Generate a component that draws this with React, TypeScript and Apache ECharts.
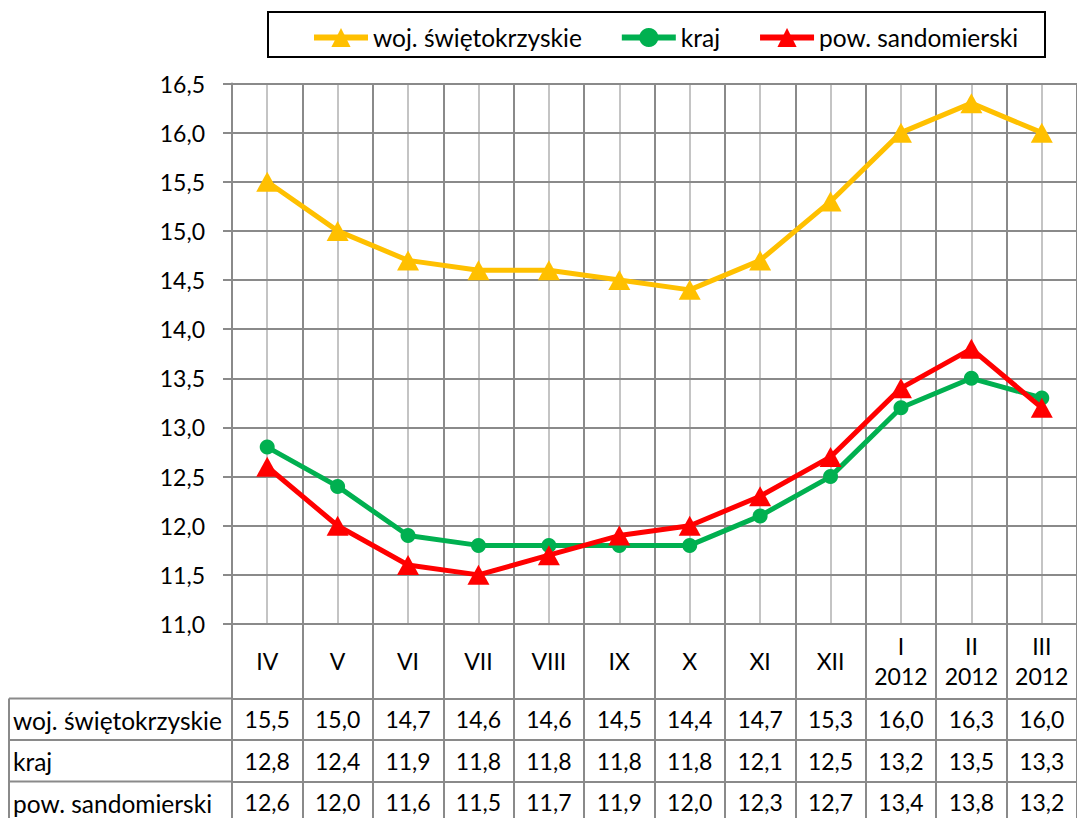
import React, { useEffect, useRef } from "react";
import * as echarts from "echarts";

const categories = ["IV", "V", "VI", "VII", "VIII", "IX", "X", "XI", "XII", "I\n2012", "II\n2012", "III\n2012"];
const seriesNames = ["woj. świętokrzyskie", "kraj", "pow. sandomierski"];
const wojValues = [15.5, 15.0, 14.7, 14.6, 14.6, 14.5, 14.4, 14.7, 15.3, 16.0, 16.3, 16.0];
const krajValues = [12.8, 12.4, 11.9, 11.8, 11.8, 11.8, 11.8, 12.1, 12.5, 13.2, 13.5, 13.3];
const powValues = [12.6, 12.0, 11.6, 11.5, 11.7, 11.9, 12.0, 12.3, 12.7, 13.4, 13.8, 13.2];
const colors = ["#FFC000", "#00B050", "#FF0000"];
const symbols = ["triangle", "circle", "triangle"];
const yMin = 11;
const yMax = 16.5;
const yStep = 0.5;

const fmt = (v: number) => v.toFixed(1).replace(".", ",");

const FONT = "Lato";
const NUM_SIZE = 23;
const NAME_SIZE = 24.5;
const GRID_LEFT = 232;
const GRID_TOP = 83.5;
const GRID_BOTTOM_Y = 624;
const GRID_W = 847;
const HEADER_H = 74.5;
const ROW_H = 41.5;
const DARK = "#8a8a8a";
const LIGHT = "#c4c4c4";

export default function App() {
  const ref = useRef<HTMLDivElement>(null);
  useEffect(() => {
    if (!ref.current) return;
    const chart = echarts.init(ref.current, null, { renderer: "svg" });
    const allValues = [wojValues, krajValues, powValues];

    const tableAxes = allValues.map((vals, i) => ({
      type: "category",
      position: "bottom",
      gridIndex: 0,
      offset: HEADER_H + i * ROW_H,
      data: vals.map(fmt),
      boundaryGap: true,
      axisLine: { show: true, lineStyle: { color: DARK, width: 2 } },
      axisTick: { show: true, length: ROW_H + (i === 2 ? 10 : 0), interval: 0, lineStyle: { color: DARK, width: 2 } },
      axisLabel: {
        interval: 0,
        margin: ROW_H / 2,
        verticalAlign: "middle",
        fontFamily: FONT,
        fontSize: NUM_SIZE,
        color: "#000",
      },
      splitLine: { show: false },
      z: 3,
    }));

    const graphicEls: any[] = [];
    const rowTops = [0, 1, 2].map((i) => GRID_BOTTOM_Y + HEADER_H + i * ROW_H);
    rowTops.forEach((t, i) => {
      graphicEls.push({
        type: "line",
        shape: { x1: 9, y1: t, x2: GRID_LEFT, y2: t },
        style: { stroke: DARK, lineWidth: 2 },
      });
      graphicEls.push({
        type: "text",
        x: 13,
        y: t + ROW_H / 2 + 1,
        style: {
          text: seriesNames[i],
          font: `${NAME_SIZE}px ${FONT}`,
          fill: "#000",
          verticalAlign: "middle",
          align: "left",
        },
      });
    });
    graphicEls.push({
      type: "line",
      shape: { x1: 9, y1: rowTops[0], x2: 9, y2: 818 },
      style: { stroke: DARK, lineWidth: 2 },
    });
    graphicEls.push({
      type: "rect",
      shape: { x: 268, y: 12, width: 777, height: 45 },
      style: { fill: "#fff", stroke: "#000", lineWidth: 2 },
      z: -1,
    });

    chart.setOption({
      animation: false,
      backgroundColor: "#fff",
      textStyle: { fontFamily: FONT },
      grid: { left: GRID_LEFT, top: GRID_TOP, width: GRID_W, height: GRID_BOTTOM_Y - GRID_TOP },
      legend: {
        left: 306,
        top: 20,
        itemWidth: 54,
        itemHeight: 24,
        itemGap: 37,
        lineStyle: { width: 6 },
        textStyle: { fontFamily: FONT, fontSize: NAME_SIZE, color: "#000" },
        data: seriesNames,
        z: 5,
      },
      xAxis: [
        {
          type: "category",
          position: "bottom",
          data: categories,
          boundaryGap: true,
          axisLine: { show: true, lineStyle: { color: DARK, width: 2 } },
          axisTick: { show: true, length: HEADER_H, interval: 0, lineStyle: { color: DARK, width: 2 } },
          axisLabel: {
            interval: 0,
            margin: HEADER_H / 2,
            verticalAlign: "middle",
            lineHeight: 30,
            fontFamily: FONT,
            fontSize: NUM_SIZE,
            color: "#000",
          },
          splitLine: { show: true, interval: 0, lineStyle: { color: DARK, width: 2 } },
          z: 2,
        },
        ...tableAxes,
        {
          type: "value",
          min: 0,
          max: categories.length,
          interval: 0.5,
          show: true,
          axisLine: { show: false },
          axisTick: { show: false },
          axisLabel: { show: false },
          splitLine: { show: true, lineStyle: { color: LIGHT, width: 2 } },
          z: 0,
        },
      ],
      yAxis: {
        type: "value",
        min: yMin,
        max: yMax,
        interval: yStep,
        axisLine: { show: true, lineStyle: { color: DARK, width: 2 } },
        axisTick: { show: true, length: 9, lineStyle: { color: DARK, width: 2 } },
        axisLabel: {
          margin: 27,
          formatter: (v: number) => fmt(v),
          fontFamily: FONT,
          fontSize: NUM_SIZE,
          color: "#000",
        },
        splitLine: { show: true, lineStyle: { color: DARK, width: 2 } },
        z: 2,
      },
      series: allValues.map((vals, i) => ({
        name: seriesNames[i],
        type: "line",
        xAxisIndex: 0,
        data: vals,
        symbol: symbols[i],
        symbolSize: symbols[i] === "triangle" ? [22, 20] : 15,
        lineStyle: { color: colors[i], width: 5 },
        itemStyle: { color: colors[i] },
        z: 10 + i,
      })),
      graphic: graphicEls,
    });
    return () => chart.dispose();
  }, []);
  return (
    <div
      ref={ref}
      style={{ position: "absolute", left: 0, top: 0, width: 1077, height: 818 }}
    />
  );
}
